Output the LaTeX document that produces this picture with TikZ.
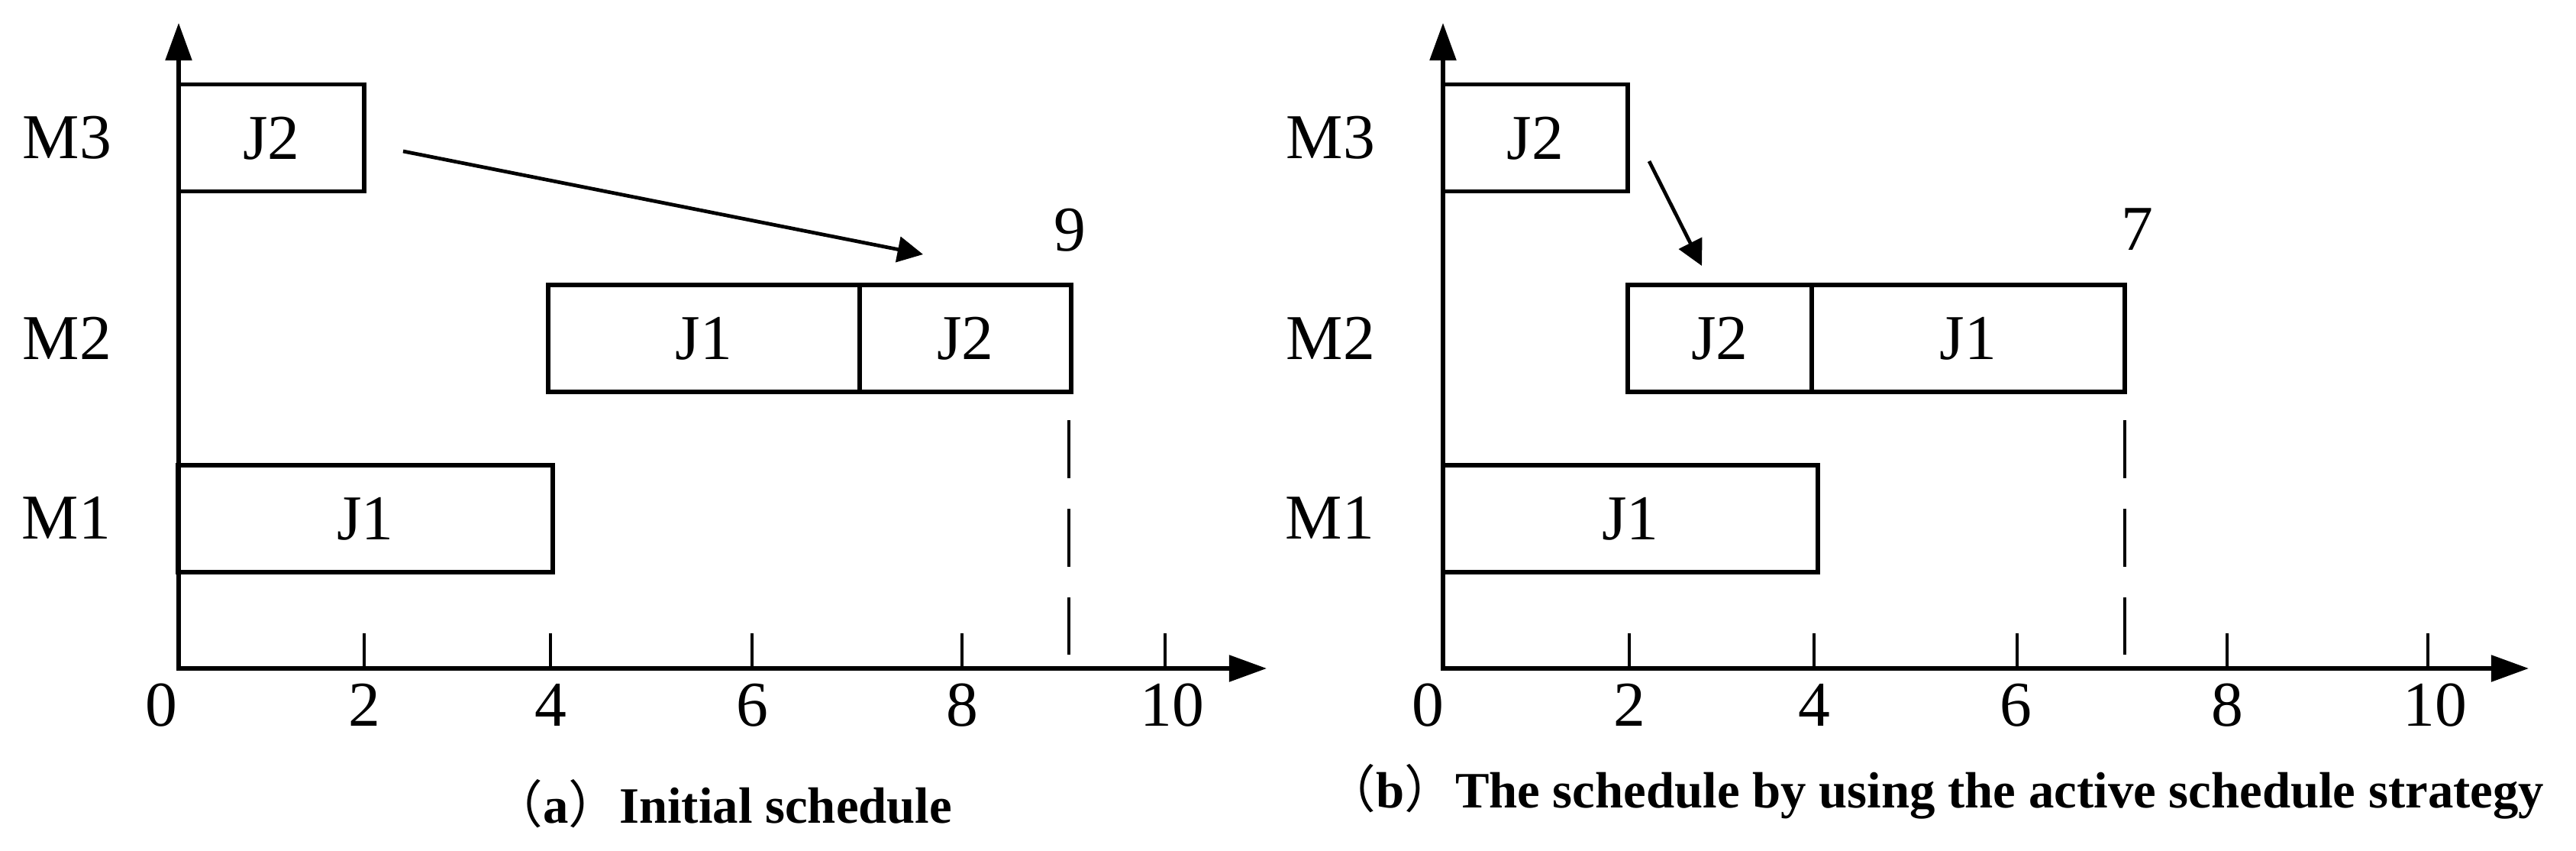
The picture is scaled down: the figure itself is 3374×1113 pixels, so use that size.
\documentclass[tikz,border=0pt]{standalone}
\usepackage{fontspec}
\setmainfont{Liberation Serif}
\newfontfamily\cjk{Noto Sans CJK SC}
\usetikzlibrary{arrows.meta}
\begin{document}
\begin{tikzpicture}[x=0.02cm,y=-0.02cm,
  lbl/.style={font=\fontsize{47.6pt}{50pt}\selectfont, anchor=base, inner sep=0pt},
  job/.style={draw, line width=3pt, inner sep=0pt, font=\fontsize{47.6pt}{50pt}\selectfont,
    text height=31.5pt, text depth=0pt, minimum height=140*0.02cm},
  axisline/.style={line width=3.1pt, line join=miter,
    {Triangle[length=28pt,width=19.4pt]}-{Triangle[length=28pt,width=19.4pt]}},
  tickline/.style={line width=2.7pt},
  endline/.style={line width=2.4pt, dash pattern=on 43pt off 23pt},
  moveline/.style={line width=2.7pt, -{Triangle[length=19pt,width=19pt]}},
  capt/.style={font=\fontsize{38pt}{40pt}\selectfont\bfseries, anchor=base west, inner sep=0pt}]
\useasboundingbox (0,0) rectangle (3374,1113);

% ---------- left panel ----------
\coordinate (yTipL) at (234,30);
\coordinate (xTipL) at (1659,875);
\draw[axisline] (yTipL) |- (xTipL);
\foreach \x in {477,721,985,1260,1526} \draw[tickline] (\x,875) -- (\x,829);
\foreach \v/\x in {0/211,2/477,4/721,6/985,8/1260,10/1535} \node[lbl] (tL\v) at (\x,950) {\v};

\node[lbl] (m3L) at (88,207) {M3};
\node[lbl] (m2L) at (88,470) {M2};
\node[lbl] (m1L) at (87,705) {M1};

\node[job, minimum width=243*0.02cm] (l3) at (355.5,180.5) {J2};
\node[job, minimum width=408*0.02cm] (l2a) at (922,443) {J1};
\node[job, minimum width=277*0.02cm] (l2b) at (1264.5,443) {J2};
\node[job, minimum width=491*0.02cm] (l1) at (478.5,679) {J1};

\coordinate (dLs) at (1400,550);
\coordinate (dLe) at (1400,858);
\draw[endline] (dLs) -- (dLe);
\node[lbl] (mkL) at (1401,328) {9};

\coordinate (aLs) at (528,198);
\coordinate (aLe) at (1209,333);
\draw[moveline] (aLs) -- (aLe);

\node[capt] (capA) at (644,1077) {{\cjk\mdseries （}a{\cjk\mdseries ）}Initial schedule};

% ---------- right panel ----------
\coordinate (yTipR) at (1890,30);
\coordinate (xTipR) at (3312,875);
\draw[axisline] (yTipR) |- (xTipR);
\foreach \x in {2134,2376,2642,2917,3180} \draw[tickline] (\x,875) -- (\x,829);
\foreach \v/\x in {0/1870,2/2134,4/2376,6/2640,8/2917,10/3189} \node[lbl] (tR\v) at (\x,950) {\v};

\node[lbl] (m3R) at (1743,207) {M3};
\node[lbl] (m2R) at (1743,470) {M2};
\node[lbl] (m1R) at (1742,705) {M1};

\node[job, minimum width=242*0.02cm] (r3) at (2011,180.5) {J2};
\node[job, minimum width=241*0.02cm] (r2a) at (2252.5,443) {J2};
\node[job, minimum width=410*0.02cm] (r2b) at (2578,443) {J1};
\node[job, minimum width=491*0.02cm] (r1) at (2135.5,679) {J1};

\coordinate (dRs) at (2783,550);
\coordinate (dRe) at (2783,858);
\draw[endline] (dRs) -- (dRe);
\node[lbl] (mkR) at (2799,327) {7};

\coordinate (aRs) at (2160,211);
\coordinate (aRe) at (2229,348);
\draw[moveline] (aRs) -- (aRe);

\node[capt] (capB) at (1735,1057) {{\cjk\mdseries （}b{\cjk\mdseries ）}The schedule by using the active schedule strategy};
\end{tikzpicture}
\end{document}
